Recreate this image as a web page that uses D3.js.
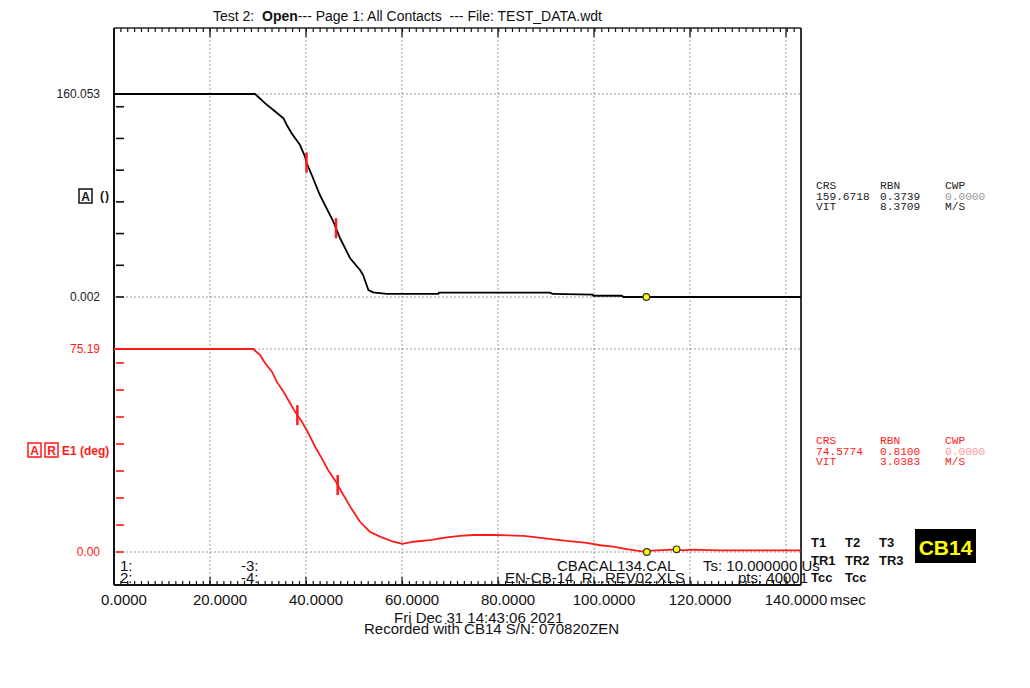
<!DOCTYPE html>
<meta charset="utf-8">
<script src="https://d3js.org/d3.v7.min.js"></script>
<style>
  body { margin: 0; background: #fff; }
  text { font-family: "Liberation Sans", Arial, sans-serif; }
  .mono { font-family: "Liberation Mono", "Courier New", monospace; }
</style>
<div id="chart"></div>

<script>
    // contact A travel, time in msec
    var timeA = [0, 29.4, 31.5, 33.2, 35.3, 36.0, 37.0, 38.75, 39.8, 40.1, 41.2, 42.9, 44.3, 45.7, 47.1,
        49.2, 51.25, 51.9, 53.0, 54.0, 56.8, 67.6, 67.7, 90.8, 91.4, 99.7, 99.85, 105.8, 106.1, 143.1];
    var travelA = [160.053, 160.053, 152.7, 147.4, 140.9, 135.6, 129.1, 119.8, 110.6, 106.0, 96.2, 80.4, 69.9, 59.4, 46.3,
        30.5, 21.3, 17.3, 5.5, 3.7, 2.4, 2.4, 3.4, 3.4, 2.4, 1.8, 1.0, 1.0, 0.002, 0.002];

    // E1 angle (deg)
    var timeE = [0, 29.0, 30.4, 31.5, 32.9, 33.9, 35.3, 36.7, 37.7, 39.1, 40.5, 41.9, 43.3, 44.6, 46.0, 47.4,
        49.2, 51.25, 53.3, 55.4, 58.2, 60.1, 62.4, 65.8, 69.3, 72.1, 74.9, 79.0, 85.3, 88.1, 91.5, 94.3,
        98.5, 101.25, 104.0, 106.8, 108.9, 111.0, 112.0, 114.4, 117.2, 118.6, 120.7, 125.6, 143.1];
    var angleE = [75.19, 75.19, 73.0, 69.9, 66.8, 63.1, 59.4, 55.1, 52.0, 48.3, 44.0, 39.0, 34.7, 30.4, 26.7, 22.3,
        16.8, 11.2, 7.5, 5.7, 3.8, 3.0, 3.8, 4.4, 5.4, 6.0, 6.3, 6.3, 6.0, 5.4, 4.7, 4.1,
        3.4, 2.5, 2.0, 1.1, 0.5, 0.0, 0.5, 0.7, 1.0, 0.6, 0.85, 0.6, 0.6];

    // red speed markers and yellow cursor dots
    var marksA = [40.1, 46.25];
    var marksE = [38.2, 46.6];
    var dotsA = [110.9];
    var dotsE = [111.0, 117.2];

    var xTicks = [0, 20, 40, 60, 80, 100, 120, 140];
    var xMax = 143.125;
    var yTicksA = [0.002, 25, 50, 75, 100, 125, 150, 160.053];
    var yLabelsA = [0.002, 160.053];
    var yTicksE = [0, 10, 20, 30, 40, 50, 60, 70, 75.19];
    var yLabelsE = [0, 75.19];

    var infoA = [["CRS", "RBN", "CWP"], ["159.6718", "0.3739", "0.0000"], ["VIT", "8.3709", "M/S"]];
    var infoE = [["CRS", "RBN", "CWP"], ["74.5774", "0.8100", "0.0000"], ["VIT", "3.0383", "M/S"]];
    var tLabels = [["T1", "T2", "T3"], ["TR1", "TR2", "TR3"], ["Tcc", "Tcc"]];

    var W = 1030, H = 688;
    var pLeft = 114, pRight = 801, pTop = 28, pBottom = 585;
    var RED = "#ff1a1a";

    var svg = d3.select("#chart").append("svg")
        .attr("width", W).attr("height", H);

    var x = d3.scaleLinear().domain([0, xMax]).range([pLeft, pRight]);
    var yA = d3.scaleLinear().domain([0.002, 160.053]).range([297, 94]);
    var yE = d3.scaleLinear().domain([0, 75.19]).range([552, 349]);

    // grid
    var grid = svg.append("g").attr("stroke", "#9a9a9a").attr("stroke-dasharray", "2,2").attr("stroke-width", 1);
    grid.selectAll(".gx").data(xTicks.slice(1)).enter().append("line")
        .attr("x1", d => x(d)).attr("x2", d => x(d)).attr("y1", pTop).attr("y2", pBottom);
    grid.selectAll(".ga").data(yLabelsA).enter().append("line")
        .attr("x1", pLeft).attr("x2", pRight).attr("y1", d => yA(d)).attr("y2", d => yA(d));
    grid.selectAll(".ge").data(yLabelsE).enter().append("line")
        .attr("x1", pLeft).attr("x2", pRight).attr("y1", d => yE(d)).attr("y2", d => yE(d));

    // minor + major ticks on top and bottom
    var minor = d3.range(0, 101).map(i => xMax * i / 100);
    var tk = svg.append("g").attr("stroke", "#111").attr("stroke-width", 1.2);
    tk.selectAll(".mt").data(minor).enter().append("line")
        .attr("x1", d => x(d)).attr("x2", d => x(d)).attr("y1", pTop).attr("y2", pTop + 4);
    tk.selectAll(".mb").data(minor).enter().append("line")
        .attr("x1", d => x(d)).attr("x2", d => x(d)).attr("y1", pBottom).attr("y2", pBottom - 4);
    tk.selectAll(".Mt").data(xTicks).enter().append("line")
        .attr("x1", d => x(d)).attr("x2", d => x(d)).attr("y1", pTop).attr("y2", pTop + 9);
    tk.selectAll(".Mb").data(xTicks).enter().append("line")
        .attr("x1", d => x(d)).attr("x2", d => x(d)).attr("y1", pBottom).attr("y2", pBottom - 8);

    // left ticks
    svg.append("g").selectAll("line").data(yTicksA).enter().append("line")
        .attr("x1", pLeft + 2).attr("x2", pLeft + 10).attr("y1", d => yA(d)).attr("y2", d => yA(d))
        .attr("stroke", "#111").attr("stroke-width", 1.6);
    svg.append("g").selectAll("line").data(yTicksE).enter().append("line")
        .attr("x1", pLeft + 2).attr("x2", pLeft + 10).attr("y1", d => yE(d)).attr("y2", d => yE(d))
        .attr("stroke", RED).attr("stroke-width", 1.6);

    // frame
    svg.append("line").attr("x1", pLeft).attr("x2", pRight).attr("y1", pTop).attr("y2", pTop)
        .attr("stroke", "#222").attr("stroke-width", 1.5);
    svg.append("line").attr("x1", pLeft).attr("x2", pRight).attr("y1", pBottom).attr("y2", pBottom)
        .attr("stroke", "#111").attr("stroke-width", 2);
    svg.append("line").attr("x1", pLeft).attr("x2", pLeft).attr("y1", pTop).attr("y2", pBottom)
        .attr("stroke", "#111").attr("stroke-width", 2);
    svg.append("line").attr("x1", pRight).attr("x2", pRight).attr("y1", pTop).attr("y2", pBottom)
        .attr("stroke", "#333").attr("stroke-width", 2);

    // x labels
    svg.append("g").selectAll("text").data(xTicks).enter().append("text")
        .attr("x", d => x(d) + 10).attr("y", 605).attr("text-anchor", "middle")
        .attr("font-size", 15).attr("fill", "#111")
        .text(d => d3.format(".4f")(d));
    svg.append("text").attr("x", x(140) + 44).attr("y", 605).attr("font-size", 15).attr("fill", "#111").text("msec");

    // y labels
    svg.append("g").selectAll("text").data(yLabelsA).enter().append("text")
        .attr("x", 100).attr("y", d => yA(d) + 4).attr("text-anchor", "end")
        .attr("font-size", 12).attr("fill", "#222").text(d => d);
    svg.append("g").selectAll("text").data(yLabelsE).enter().append("text")
        .attr("x", 100).attr("y", d => yE(d) + 4).attr("text-anchor", "end")
        .attr("font-size", 12).attr("fill", RED).text(d => d3.format(".2f")(d));

    // channel labels
    function box(x0, y0, letter, col) {
        svg.append("rect").attr("x", x0).attr("y", y0).attr("width", 13).attr("height", 14)
            .attr("fill", "none").attr("stroke", col).attr("stroke-width", 1.5);
        svg.append("text").attr("x", x0 + 6.5).attr("y", y0 + 11.5).attr("text-anchor", "middle")
            .attr("font-size", 12).attr("font-weight", "bold").attr("fill", col).text(letter);
    }
    box(79, 189, "A", "#111");
    svg.append("text").attr("x", 100).attr("y", 200).attr("font-size", 12).attr("font-weight", "bold")
        .attr("letter-spacing", 1).attr("fill", "#111").text("()");
    box(28, 443, "A", RED);
    box(45, 443, "R", RED);
    svg.append("text").attr("x", 62).attr("y", 455).attr("font-size", 12).attr("font-weight", "bold")
        .attr("fill", RED).text("E1 (deg)");

    // curves
    var lineA = d3.line().x((d, i) => x(timeA[i])).y(d => yA(d));
    var lineE = d3.line().x((d, i) => x(timeE[i])).y(d => yE(d));
    svg.append("path").datum(travelA).attr("d", lineA)
        .attr("fill", "none").attr("stroke", "#000").attr("stroke-width", 1.8);
    svg.append("path").datum(angleE).attr("d", lineE)
        .attr("fill", "none").attr("stroke", RED).attr("stroke-width", 1.8);

    var onA = d3.scaleLinear().domain(timeA).range(travelA);
    var onE = d3.scaleLinear().domain(timeE).range(angleE);

    svg.append("g").selectAll("line").data(marksA).enter().append("line")
        .attr("x1", d => x(d)).attr("x2", d => x(d))
        .attr("y1", d => yA(onA(d)) - 10).attr("y2", d => yA(onA(d)) + 10)
        .attr("stroke", RED).attr("stroke-width", 2.5);
    svg.append("g").selectAll("line").data(marksE).enter().append("line")
        .attr("x1", d => x(d)).attr("x2", d => x(d))
        .attr("y1", d => yE(onE(d)) - 10).attr("y2", d => yE(onE(d)) + 10)
        .attr("stroke", RED).attr("stroke-width", 2.5);

    svg.append("g").selectAll("circle").data(dotsA).enter().append("circle")
        .attr("cx", d => x(d)).attr("cy", d => yA(onA(d))).attr("r", 3.3)
        .attr("fill", "#ffff00").attr("stroke", "#333").attr("stroke-width", 1.2);
    svg.append("g").selectAll("circle").data(dotsE).enter().append("circle")
        .attr("cx", d => x(d)).attr("cy", d => yE(onE(d))).attr("r", 3.3)
        .attr("fill", "#ffff00").attr("stroke", "#333").attr("stroke-width", 1.2);

    // info panels
    var cols = [816, 880, 945];
    function info(rows, y0, col, dim) {
        rows.forEach(function(r, ri) {
            r.forEach(function(c, ci) {
                svg.append("text").attr("class", "mono")
                    .attr("x", cols[ci]).attr("y", y0 + ri * 10.5)
                    .attr("font-size", 11.2)
                    .attr("fill", (ri === 1 && ci === 2) ? dim : col)
                    .text(c);
            });
        });
    }
    info(infoA, 189, "#222", "#999");
    info(infoE, 444, RED, "#ff9999");

    // T labels
    var tCols = [811, 845, 879];
    tLabels.forEach(function(r, ri) {
        r.forEach(function(c, ci) {
            svg.append("text").attr("x", tCols[ci]).attr("y", 547 + ri * 17.5)
                .attr("font-size", 13).attr("font-weight", "bold").attr("fill", "#111").text(c);
        });
    });
    svg.append("rect").attr("x", 915).attr("y", 529).attr("width", 61).attr("height", 34).attr("fill", "#000");
    svg.append("text").attr("x", 945.5).attr("y", 554.5).attr("text-anchor", "middle")
        .attr("font-size", 21).attr("font-weight", "bold").attr("fill", "#ffff00").text("CB14");

    // in-plot footer texts
    var foot = svg.append("g").attr("font-size", 15).attr("fill", "#111");
    foot.append("text").attr("x", 120).attr("y", 571).text("1:");
    foot.append("text").attr("x", 120).attr("y", 583).text("2:");
    foot.append("text").attr("x", 241).attr("y", 571).text("-3:");
    foot.append("text").attr("x", 241).attr("y", 583).text("-4:");
    foot.append("text").attr("x", 557).attr("y", 571).text("CBACAL134.CAL");
    foot.append("text").attr("x", 703).attr("y", 571).text("Ts: 10.000000 Us");
    foot.append("text").attr("x", 505).attr("y", 583).text("EN-CB-14_R...REV02.XLS");
    foot.append("text").attr("x", 738).attr("y", 583).text("pts: 40001");

    // title and bottom lines
    var t = svg.append("text").attr("x", 213).attr("y", 21).attr("font-size", 14).attr("fill", "#111")
        .style("white-space", "pre");
    t.append("tspan").text("Test 2:  ");
    t.append("tspan").attr("font-weight", "bold").text("Open");
    t.append("tspan").text("--- Page 1: All Contacts  --- File: TEST_DATA.wdt");

    svg.append("text").attr("x", 394).attr("y", 623).attr("font-size", 15).attr("fill", "#111")
        .text("Fri Dec 31 14:43:06 2021");
    svg.append("text").attr("x", 364).attr("y", 634).attr("font-size", 15).attr("fill", "#111")
        .text("Recorded with CB14 S/N: 070820ZEN");
</script>
